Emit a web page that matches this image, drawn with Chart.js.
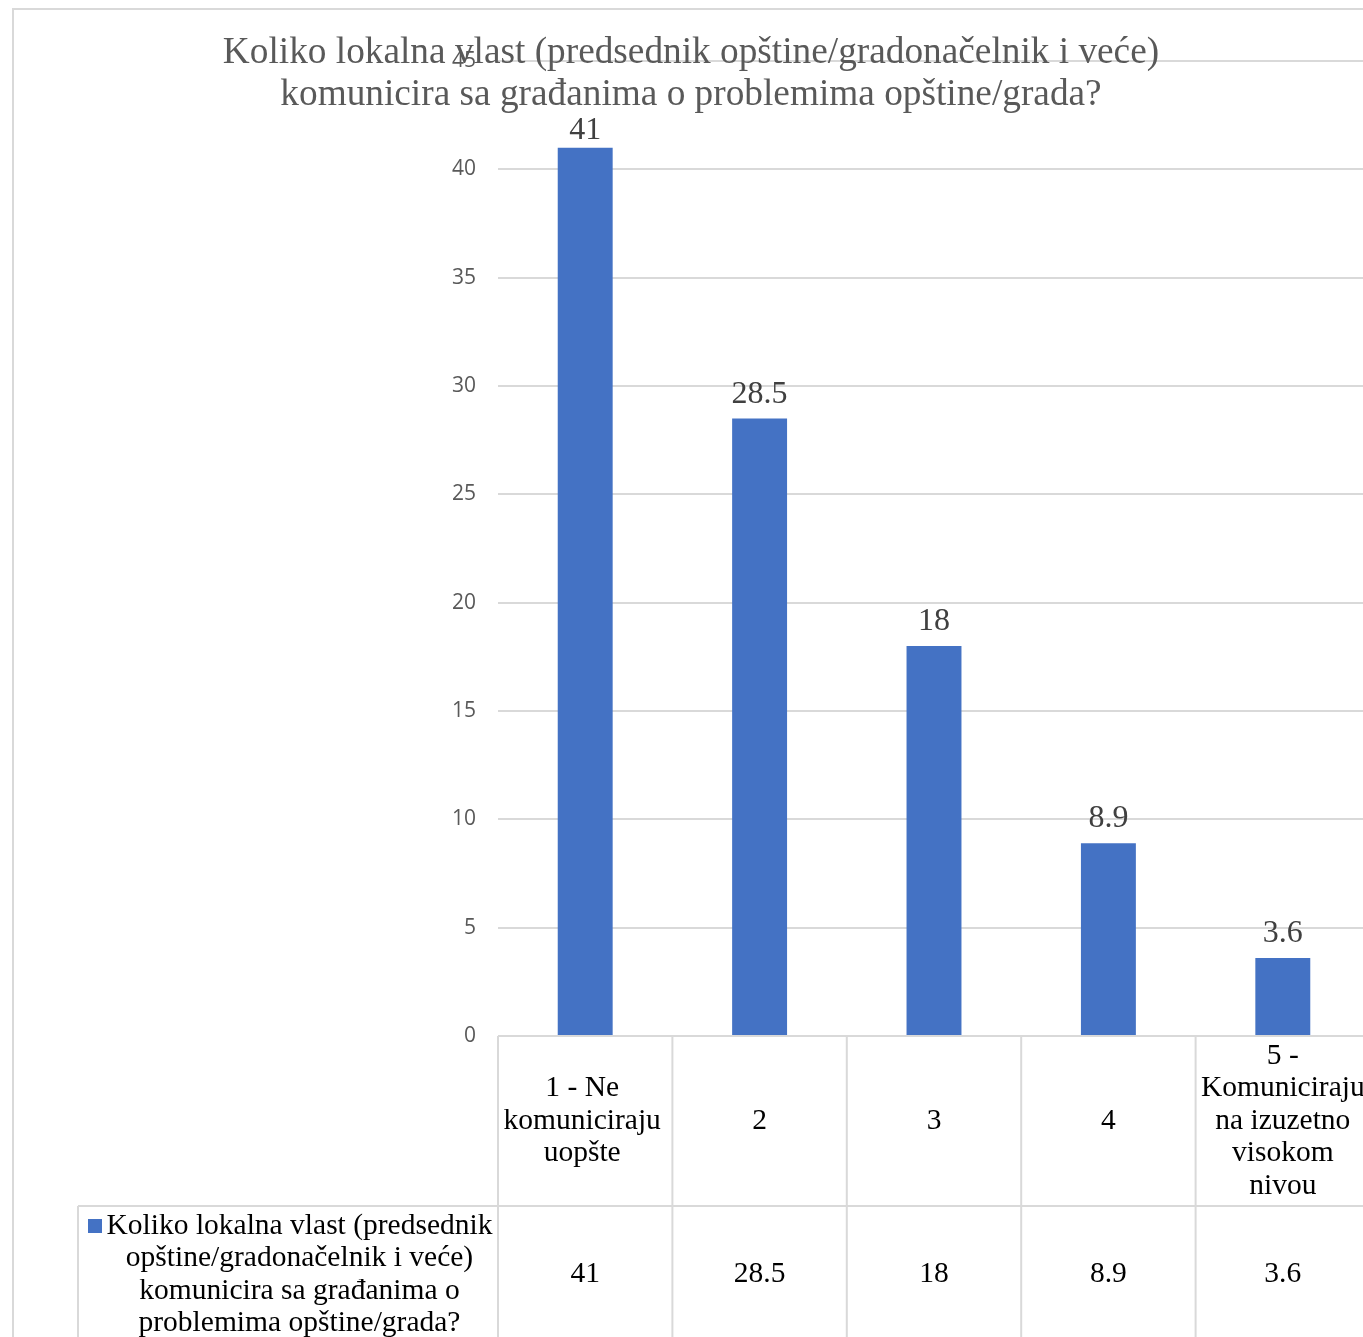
<!DOCTYPE html>
<html>
<head>
<meta charset="utf-8">
<script src="https://cdn.jsdelivr.net/npm/chart.js@4.4.1/dist/chart.umd.min.js"></script>
<style>
  html, body { margin: 0; padding: 0; background: #fff; overflow: hidden; }
  #wrap { position: absolute; left: 0; top: 0; width: 1390px; height: 1337px; }
</style>
</head>
<body>
<div id="wrap"><canvas id="chart"></canvas></div>
<script>
// Podaci
const titleLines = [
    'Koliko lokalna vlast (predsednik opštine/gradonačelnik i veće)',
    'komunicira sa građanima o problemima opštine/grada?'
];
const categories = [
    ['1 - Ne', 'komuniciraju', 'uopšte'],
    ['2'],
    ['3'],
    ['4'],
    ['5 -', 'Komuniciraju', 'na izuzetno', 'visokom', 'nivou']
];
const values = [41, 28.5, 18, 8.9, 3.6];
const valueLabels = ['41', '28.5', '18', '8.9', '3.6'];
const seriesName = 'Koliko lokalna vlast (predsednik opštine/gradonačelnik i veće) komunicira sa građanima o problemima opštine/grada?';
const legendLines = [
    'Koliko lokalna vlast (predsednik',
    'opštine/gradonačelnik i veće)',
    'komunicira sa građanima o',
    'problemima opštine/grada?'
];
const yMin = 0;
const yMax = 45;
const yStep = 5;

// Boje i fontovi
const colors = {
    bar: '#4472c4',
    grid: '#d9d9d9',
    title: '#595959',
    axis: '#595959',
    label: '#404040',
    text: '#000000',
};
const serif = "'Liberation Serif', 'Times New Roman', serif";

function line(ctx, x1, y1, x2, y2) {
    ctx.beginPath();
    ctx.moveTo(x1, y1);
    ctx.lineTo(x2, y2);
    ctx.stroke();
}

// Plugin: okvir, naslov, oznake vrednosti i tabela podataka
const excelLook = {
    id: 'excelLook',
    beforeDraw(chart) {
        const ctx = chart.ctx;
        ctx.save();
        ctx.fillStyle = '#fff';
        ctx.fillRect(0, 0, chart.width, chart.height);
        ctx.strokeStyle = colors.grid;
        ctx.lineWidth = 2;
        ctx.strokeRect(13, 9, chart.width + 50, chart.height + 50);
        ctx.restore();
    },
    afterDatasetsDraw(chart) {
        const ctx = chart.ctx;
        const meta = chart.getDatasetMeta(0);
        ctx.save();
        ctx.font = '32px ' + serif;
        ctx.fillStyle = colors.label;
        ctx.textAlign = 'center';
        ctx.textBaseline = 'alphabetic';
        meta.data.forEach((bar, i) => {
            // oznaka ne sme da uđe u naslov
            const y = Math.max(bar.y - 16, 139);
            ctx.fillText(valueLabels[i], bar.x, y);
        });
        ctx.restore();
    },
    afterDraw(chart) {
        const ctx = chart.ctx;
        const area = chart.chartArea;
        const x = chart.scales.x;
        const n = categories.length;
        const colW = (area.right - area.left) / n;
        const row1Top = area.bottom;
        const row1Bottom = area.bottom + 170;
        const row2Bottom = area.bottom + 320;
        const legendLeft = 78;

        ctx.save();
        // naslov
        ctx.font = '37.3px ' + serif;
        ctx.fillStyle = colors.title;
        ctx.textAlign = 'center';
        ctx.textBaseline = 'alphabetic';
        titleLines.forEach((t, i) => ctx.fillText(t, 691, 63 + i * 42));

        // linije tabele
        ctx.strokeStyle = colors.grid;
        ctx.lineWidth = 2;
        line(ctx, area.left, row1Top, area.right, row1Top);
        line(ctx, legendLeft, row1Bottom, area.right, row1Bottom);
        line(ctx, legendLeft, row1Bottom, legendLeft, row2Bottom);
        for (let i = 0; i <= n; i++) {
            const xp = area.left + i * colW;
            line(ctx, xp, row1Top, xp, row2Bottom);
        }

        // kategorije i vrednosti
        ctx.font = '29.5px ' + serif;
        ctx.fillStyle = colors.text;
        ctx.textBaseline = 'middle';
        const lh = 32.5;
        categories.forEach((lines, i) => {
            const cx = x.getPixelForValue(i);
            const cy = (row1Top + row1Bottom) / 2 - (lines.length - 1) * lh / 2;
            lines.forEach((t, j) => ctx.fillText(t, cx - (i === 0 ? 3 : 0), cy + j * lh));
            ctx.fillText(valueLabels[i], cx, 1274);
        });

        // legenda
        ctx.fillStyle = colors.bar;
        ctx.fillRect(88, 1219, 14, 14);
        ctx.fillStyle = colors.text;
        legendLines.forEach((t, j) => ctx.fillText(t, 299.5, 1226 + j * lh));
        ctx.restore();
    }
};

new Chart(document.getElementById('chart'), {
    type: 'bar',
    data: {
        labels: categories,
        datasets: [{
            label: seriesName,
            data: values,
            backgroundColor: colors.bar,
            borderWidth: 0,
            barPercentage: 0.315,
            categoryPercentage: 1,
        }]
    },
    options: {
        responsive: true,
        maintainAspectRatio: false,
        animation: false,
        layout: {
            padding: { top: 61, right: 20, bottom: 301, left: 0 }
        },
        plugins: {
            legend: { display: false },
            title: { display: false },
            tooltip: { enabled: false },
        },
        scales: {
            x: {
                display: false,
            },
            y: {
                min: yMin,
                max: yMax,
                afterFit(scale) { scale.width = 498; },
                border: { display: false },
                grid: {
                    color: colors.grid,
                    lineWidth: 2,
                    drawTicks: false,
                },
                ticks: {
                    stepSize: yStep,
                    padding: 22,
                    color: colors.axis,
                    font: { family: "'Open Sans', sans-serif", size: 21 },
                }
            }
        }
    },
    plugins: [excelLook]
});
</script>
</body>
</html>
